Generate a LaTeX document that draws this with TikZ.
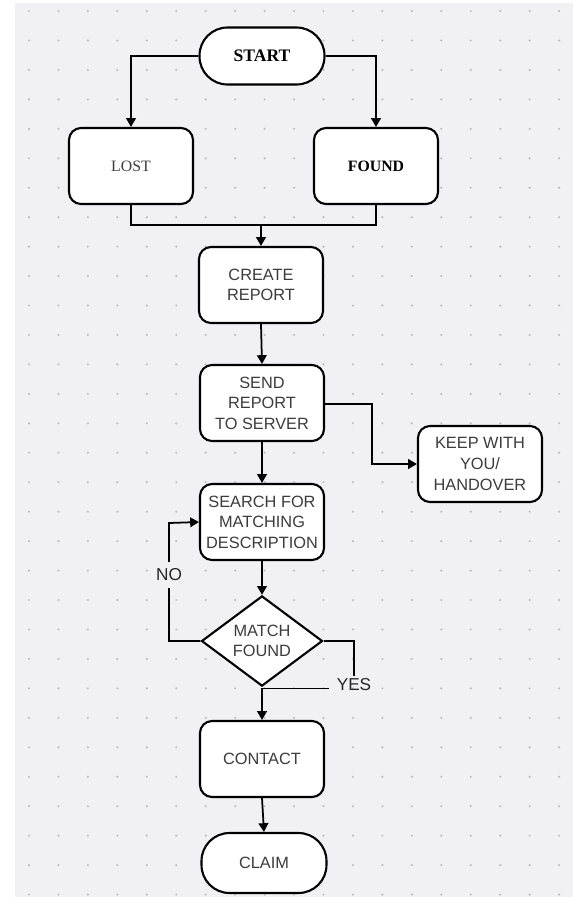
\documentclass[tikz,border=0pt]{standalone}
\usepackage{fontspec}
\setmainfont{Liberation Serif}
\newfontfamily\boxfont{Liberation Sans}
\usetikzlibrary{shapes.geometric,arrows.meta}

\definecolor{canvas}{HTML}{F1F1F4}
\definecolor{griddot}{HTML}{BDBDC2}
\definecolor{boxtext}{HTML}{3C3C3C}

\tikzset{
  terminal/.style={draw, fill=white, line width=1.2pt, rounded corners=0.56cm,
    minimum width=2.5cm, minimum height=1.14cm, font=\fontsize{9}{11}\selectfont},
  stepbox/.style={draw, fill=white, line width=1.2pt, rounded corners=0.24cm,
    minimum width=2.48cm, minimum height=1.52cm, align=center, text=boxtext,
    font=\boxfont\fontsize{9.3}{11.7}\selectfont},
  decision/.style={draw, fill=white, diamond, line width=1.2pt, inner sep=0pt,
    minimum width=2.42cm, minimum height=1.5cm, align=center, text=boxtext,
    font=\boxfont\fontsize{9.3}{11.7}\selectfont},
  branch/.style={font=\boxfont\fontsize{9.8}{11}\selectfont, text=black!85, inner sep=1pt}
}

\begin{document}
\begin{tikzpicture}[x=0.02cm, y=-0.02cm, line width=1pt,
  >={Triangle[length=5pt,width=5.5pt]}]
\useasboundingbox (0,0) rectangle (573,897);
\fill[canvas] (15,3) rectangle (573,897);
\foreach \i in {0,...,18}
  \foreach \j in {0,...,30}
    \fill[griddot] (29+29.45*\i, 11+29.45*\j) circle (1.2);

\path
(262,56) node[terminal, font=\bfseries] (start) {START}
(131,166) node[stepbox, font=\rmfamily\fontsize{9}{11}\selectfont] (lost) {LOST}
(376,166) node[stepbox, text=black, font=\rmfamily\bfseries\fontsize{9}{11}\selectfont] (found) {FOUND}
(261,285) node[stepbox] (create) {CREATE\\REPORT}
(262,403) node[stepbox] (send) {SEND\\REPORT\\TO SERVER}
(480,464) node[stepbox] (keep) {KEEP WITH\\YOU/\\HANDOVER}
(262,522) node[stepbox] (search) {SEARCH FOR\\MATCHING\\DESCRIPTION}
(262,641) node[decision] (match) {MATCH\\FOUND}
(262,759) node[stepbox] (contact) {CONTACT}
(264,863) node[terminal, minimum height=1.2cm, text=boxtext, font=\boxfont\fontsize{9.3}{11}\selectfont] (claim) {CLAIM}
(354,685) node[branch] (yes) {YES};

\coordinate (join) at (261,225);
\coordinate (aside) at (372,404);
\coordinate (noleft) at (169,641);
\coordinate (noup) at (169,523);

\draw[->] (start.west) -| (lost.north);
\draw[->] (start.east) -| (found.north);
\draw (lost.south) |- (join) -| (found.south);
\draw[->] (join) -- (create.north);
\draw[->] (create.south) -- (send.north);
\draw[->] (send.east |- aside) -- (aside) |- (keep.west);
\draw[->] (send.south) -- (search.north);
\draw[->] (search.south) -- (match.north);
\draw[->] (match.west) -- (noleft) -- node[pos=0.56, fill=canvas, branch, inner ysep=4pt] {NO} (noup) -- (search.west);
\draw (match.east) -| (yes.north);
\draw[->] ([xshift=-3pt,yshift=-2pt]yes.west) -| (contact.north);
\draw[->] (contact.south) -- (claim.north);
\end{tikzpicture}
\end{document}
